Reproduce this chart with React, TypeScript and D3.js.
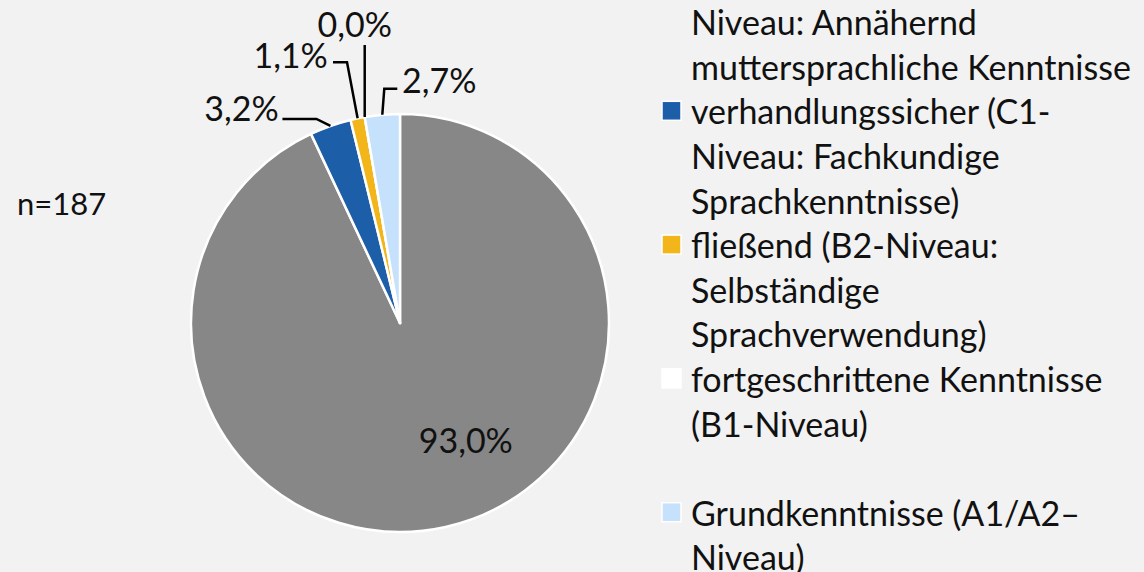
import { useEffect, useRef } from 'react';
import * as d3 from 'd3';

// Sprachniveau, n=187
const categoryLines = [
  ['muttersprachlich (C2-', 'Niveau: Annähernd', 'muttersprachliche Kenntnisse'],
  ['verhandlungssicher (C1-', 'Niveau: Fachkundige', 'Sprachkenntnisse)'],
  ['fließend (B2-Niveau:', 'Selbständige', 'Sprachverwendung)'],
  ['fortgeschrittene Kenntnisse', '(B1-Niveau)', ''],
  ['Grundkenntnisse (A1/A2–', 'Niveau)'],
];
const shares = [93.0, 3.2, 1.1, 0.0, 2.7];
const colors = ['#878787', '#1c5ea8', '#f2b51a', '#ffffff', '#c6e1fb'];
const sampleNote = 'n=187';

// label placement (text centre offset and leader polyline, relative to the slice edge)
const labelLayout = [
  { inside: true, dx: 43, dy: 15 },
  { dx: -89, dy: -18, leader: [[0, 0], [-14, -7], [-48, -7]] },
  { dx: -67, dy: -64, leader: [[0, 0], [-10.6, -56], [-24.6, -56]] },
  { dx: -10, dy: -94, leader: [[0, 0], [0, -72]] },
  { dx: 57, dy: -35, leader: [[0, 0], [2, -26], [15, -26]] },
];

const W = 1144;
const H = 572;
const FONT = 'Lato, "Open Sans", sans-serif';

export default function App() {
  const ref = useRef<SVGSVGElement>(null);

  useEffect(() => {
    const svg = d3.select(ref.current);
    svg.selectAll('*').remove();

    svg.append('rect').attr('width', W).attr('height', H).attr('fill', '#f2f2f2');

    const cx = 400;
    const cy = 323;
    const r = 209;

    const locale = d3.formatLocale({ decimal: ',', thousands: '.', grouping: [3], currency: ['', '€'] });
    const fmt = (v: number) => locale.format('.1f')(v) + '%';

    const pie = d3.pie<number>().sort(null).value(d => d);
    const arcs = pie(shares);
    const arc = d3.arc<d3.PieArcDatum<number>>().innerRadius(0).outerRadius(r);

    const g = svg.append('g').attr('transform', `translate(${cx},${cy})`);

    g.selectAll('path.slice')
      .data(arcs)
      .enter()
      .append('path')
      .attr('class', 'slice')
      .attr('d', arc)
      .attr('fill', (d, i) => colors[i])
      .attr('stroke', '#ffffff')
      .attr('stroke-width', 2.5)
      .attr('stroke-linejoin', 'round');

    // data labels
    arcs.forEach((a, i) => {
      const lay = labelLayout[i];
      const mid = (a.startAngle + a.endAngle) / 2;
      if (lay.inside) {
        const [x, y] = arc.centroid(a);
        g.append('text')
          .attr('x', x + lay.dx)
          .attr('y', y + lay.dy)
          .attr('text-anchor', 'middle')
          .attr('dominant-baseline', 'central')
          .attr('font-family', FONT)
          .attr('font-size', 34)
          .attr('fill', '#111')
          .text(fmt(shares[i]));
        return;
      }
      const ex = r * Math.sin(mid);
      const ey = -r * Math.cos(mid);
      const pts = (lay.leader || []).map(p => [ex + p[0], ey + p[1]] as [number, number]);
      g.append('path')
        .attr('d', d3.line()(pts))
        .attr('fill', 'none')
        .attr('stroke', '#000')
        .attr('stroke-width', 2.5);
      g.append('text')
        .attr('x', ex + lay.dx)
        .attr('y', ey + lay.dy)
        .attr('text-anchor', 'middle')
        .attr('dominant-baseline', 'central')
        .attr('font-family', FONT)
        .attr('font-size', 34)
        .attr('fill', '#111')
        .text(fmt(shares[i]));
    });

    // n note
    svg.append('text')
      .attr('x', 17)
      .attr('y', 203)
      .attr('dominant-baseline', 'central')
      .attr('font-family', FONT)
      .attr('font-size', 31)
      .attr('fill', '#111')
      .text(sampleNote);

    // legend
    const lh = 44.6;
    const top = -23;
    const leg = svg.append('g');
    let line = 0;
    categoryLines.forEach((lines, i) => {
      const y0 = top + line * lh;
      leg.append('rect')
        .attr('x', 662)
        .attr('y', y0 - 9.5)
        .attr('width', 19)
        .attr('height', 19)
        .attr('fill', colors[i])
        .attr('stroke', '#ffffff')
        .attr('stroke-width', 1.5);
      lines.forEach((t, j) => {
        leg.append('text')
          .attr('x', 691)
          .attr('y', y0 + j * lh)
          .attr('dominant-baseline', 'central')
          .attr('font-family', FONT)
          .attr('font-size', 34)
          .attr('fill', '#111')
          .text(t);
      });
      line += lines.length;
    });
  }, []);

  return (
    <>
      <style>{'body{margin:0;background:#f2f2f2;overflow:hidden}'}</style>
      <svg ref={ref} width={W} height={H} style={{ display: 'block' }} />
    </>
  );
}
